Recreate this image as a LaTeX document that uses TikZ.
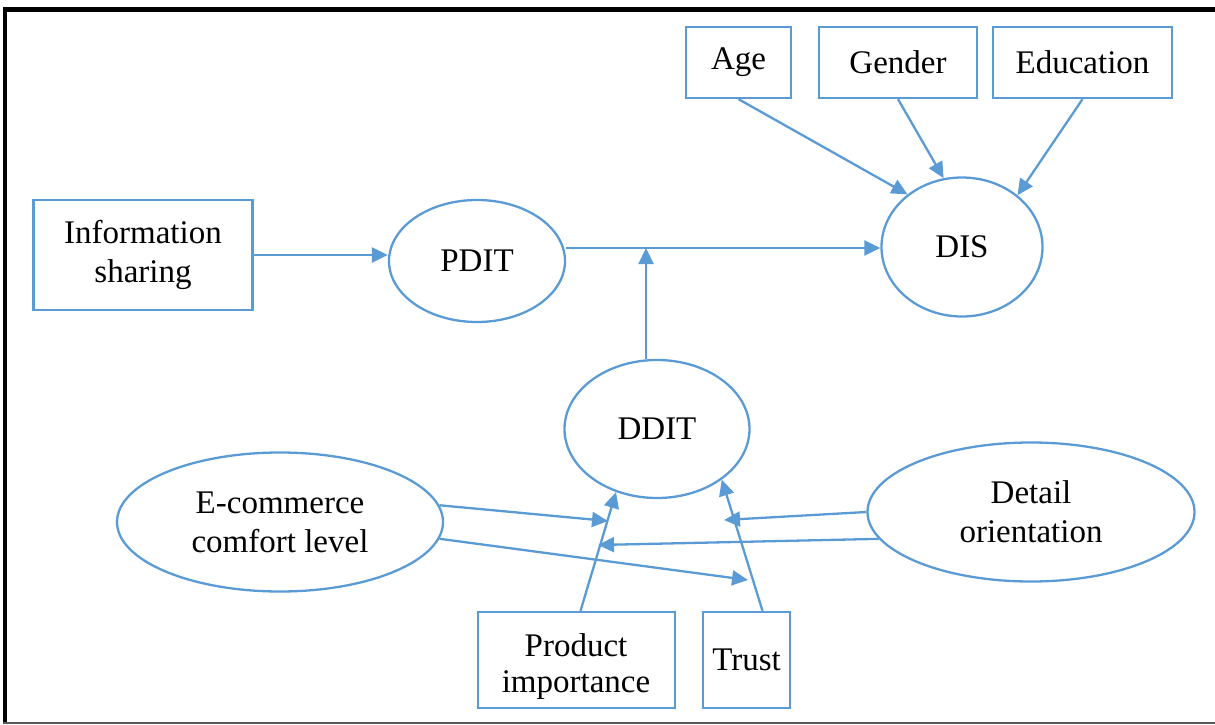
\documentclass[tikz,border=0pt]{standalone}
\usepackage{fontspec}
\setmainfont{Liberation Serif}
\usetikzlibrary{shapes.geometric,arrows.meta}
\definecolor{linkblue}{HTML}{5B9BD5}

\begin{document}
\begin{tikzpicture}[x=1pt,y=-1pt,
  every node/.style={font=\rmfamily\fontsize{33}{39}\selectfont, text=black},
  box/.style={draw=linkblue, line width=2.3pt, rectangle, inner sep=0pt, align=center},
  oval/.style={draw=linkblue, line width=2.3pt, ellipse, inner sep=0pt, align=center},
  lbl/.style={inner sep=0pt, align=center},
  link/.style={draw=linkblue, line width=2.3pt, -{Triangle[length=16pt,width=15pt]}},
]
\useasboundingbox (0,0) rectangle (1215,725);

% frame
\fill[black] (3,7) rectangle (1215,12);
\fill[black] (3,7) rectangle (7,723);
\draw[black!65, line width=1.5pt] (3,723) -- (1215,723);

% demographic controls
\node[box, minimum width=105, minimum height=71] (age) at (738.5,62.5) {Age};
\node[box, minimum width=158, minimum height=71] (gender) at (898,62.5) {Gender};
\node[box, minimum width=179, minimum height=71] (edu) at (1082.5,62.5) {Education};

% main chain
\node[box, minimum width=219, minimum height=110] (info) at (143,255) {Information\\sharing};
\node[oval, minimum width=176, minimum height=122] (pdit) at (477,261) {PDIT};
\node[oval, minimum width=161, minimum height=139] (dis) at (962,247) {DIS};
\node[oval, minimum width=185, minimum height=138] (ddit) at (657,429) {DDIT};

% antecedents of DDIT
\node[oval, minimum width=326, minimum height=139] (ecom) at (280,522) {E-commerce\\comfort level};
\node[oval, minimum width=327, minimum height=139] (detail) at (1031,512) {Detail\\orientation};
\node[box, minimum width=197, minimum height=96] (prod) at (576.5,660) {};
\node[lbl, font=\rmfamily\fontsize{33}{36}\selectfont] (prodtxt) at (576,667) {Product\\importance};
\node[box, minimum width=87, minimum height=96] (trust) at (746.5,660) {Trust};

% junction on the PDIT -> DIS path and free arrow ends
\coordinate (j) at (646,248);
\coordinate (ddL) at (608,521);
\coordinate (trL) at (748,580);
\coordinate (ddR) at (724,520);
\coordinate (prR) at (598,545);

% connectors
\draw[link] (info.east) -- (info.east -| pdit.west);
\draw[link] (pdit.east |- j) -- (dis.west |- j);
\draw[link] (j |- ddit.north) -- (j);

\draw[link] (age.south) -- (dis.136);
\draw[link] (gender.south) -- (dis.105);
\draw[link] (edu.south) -- (dis.43);

\draw[link] (ecom.6) -- (ddL);
\draw[link] (ecom.354) -- (trL);
\draw[link] ([xshift=4pt]prod.north) -- (ddit.237);
\draw[link] ([xshift=16pt]trust.north) -- (ddit.322);
\draw[link] (detail.west) -- (ddR);
\draw[link] (detail.190) -- (prR);
\end{tikzpicture}
\end{document}
